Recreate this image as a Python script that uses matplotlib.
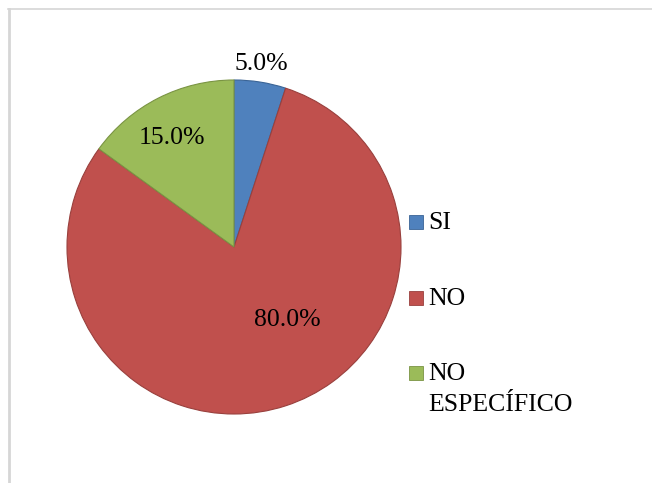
import numpy as np
import matplotlib.pyplot as plt
from matplotlib.lines import Line2D

plt.rcParams['font.family'] = ['Liberation Serif', 'DejaVu Serif']

categorias = ['SI', 'NO', 'NO\nESPECÍFICO']
valores = [5.0, 80.0, 15.0]
colores = ['#4F81BD', '#C0504D', '#9BBB59']
bordes = ['#3A6496', '#99403D', '#7A9443']

fig = plt.figure(figsize=(6.52, 4.83), dpi=100)
W, H = 652, 483

# marco gris (solo arriba e izquierda)
fig.add_artist(Line2D([8 / W, 1], [1 - 8.5 / H, 1 - 8.5 / H], color='#D6D6D6', lw=1.2))
fig.add_artist(Line2D([9 / W, 9 / W], [0, 1 - 8.5 / H], color='#D6D6D6', lw=2))

cx, cy, r = 234, 247, 167
ax = fig.add_axes([(cx - r) / W, (H - cy - r) / H, 2 * r / W, 2 * r / H])

wedges, _ = ax.pie(valores, colors=colores, startangle=90, counterclock=False,
                   radius=1, wedgeprops=dict(linewidth=0.8))
for w, b in zip(wedges, bordes):
    w.set_edgecolor(b)
ax.set_xlim(-1, 1)
ax.set_ylim(-1, 1)
ax.set_aspect('auto')
ax.axis('off')

# etiquetas de porcentaje (distancia, angulo)
pos_etiquetas = [(1.11, 81.6), (0.54, -53.6), (0.75, 119.6)]
for v, (d, ang) in zip(valores, pos_etiquetas):
    a = np.deg2rad(ang)
    ax.text(d * np.cos(a), d * np.sin(a), f'{v:.1f}%', ha='center', va='center',
            fontsize=18.5, color='black')

# leyenda (linea base de cada entrada)
ys = [229, 305, 380]
for cat, col, b, y in zip(categorias, colores, bordes, ys):
    fig.patches.append(plt.Rectangle((409 / W, 1 - y / H), 14 / W, 14 / H,
                                     transform=fig.transFigure, facecolor=col,
                                     edgecolor=b, lw=0.6))
    for i, linea in enumerate(cat.split('\n')):
        fig.text(428 / W, 1 - (y + 31 * i) / H, linea, ha='left', va='baseline',
                 fontsize=18.5)

fig.savefig('out.png', dpi=100, facecolor='white')
